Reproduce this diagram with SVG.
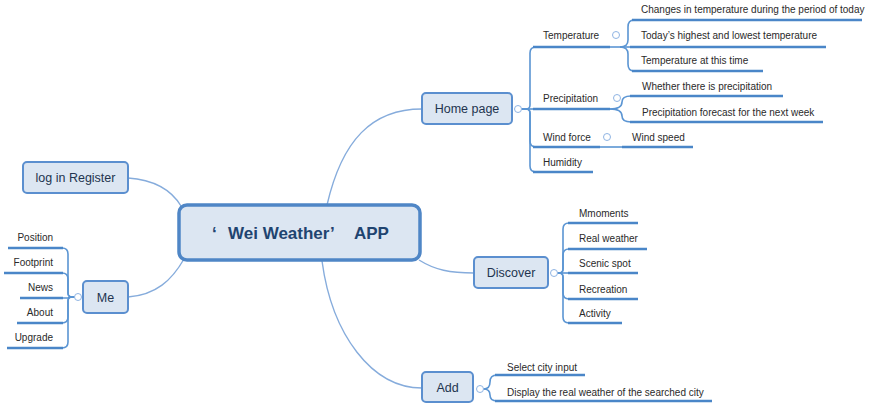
<svg xmlns="http://www.w3.org/2000/svg" width="874" height="406" viewBox="0 0 874 406">
<style>
.bg{fill:#ffffff}
.node rect{fill:#dce6f2;stroke:#5b8fcf;stroke-width:2}
.main rect{fill:#dce6f2;stroke:#4f86c6;stroke-width:3.5}
.nt{font-family:"Liberation Sans",Arial,sans-serif;font-size:12.5px;fill:#22344f;text-anchor:middle}
.mt{font-family:"Liberation Sans",Arial,sans-serif;font-size:17px;font-weight:bold;fill:#1f4470}
.lt{font-family:"Liberation Sans",Arial,sans-serif;font-size:10px;fill:#2a2a2a}
.rt{text-anchor:end}
.con{fill:none;stroke:#86acdc;stroke-width:1.4}
.br{fill:none;stroke:#5b95d3;stroke-width:1.6}
.ul{fill:none;stroke:#4a86c8;stroke-width:2.6}
.cc{fill:#ffffff;stroke:#8fb4e3;stroke-width:1}
</style>
<rect class="bg" x="0" y="0" width="874" height="406"/>
<g id="connectors">
  <path class="con" d="M327,205 C342,140 372,109 422,109"/>
  <path class="con" d="M419,260 C435,270 450,273 474,273"/>
  <path class="con" d="M322,261 C332,335 372,388 422,388"/>
  <path class="con" d="M128,178 C156,180 172,191 181,206"/>
  <path class="con" d="M128,297 C156,295 172,280 184,259"/>
  <path class="br" d="M521.5,109 H526 Q530,109 530,105 V53 Q530,47 536,47"/>
  <path class="br" d="M521.5,109 H536"/>
  <path class="br" d="M521.5,109 H526 Q530,109 530,113 V141 Q530,147 536,147"/>
  <path class="br" d="M521.5,109 H526 Q530,109 530,113 V166 Q530,172 536,172"/>
  <path class="br" d="M610,47 H631"/>
  <path class="br" d="M620,47 Q628,47 628,40 V27 Q628,20 634,20"/>
  <path class="br" d="M620,47 Q628,47 628,54 V64 Q628,71 634,71"/>
  <path class="br" d="M610,109 Q622,109 622,102 Q622,96 631,96"/>
  <path class="br" d="M610,109 Q622,109 622,116 Q622,122 631,122"/>
  <path class="br" d="M600,147 H623"/>
  <path class="br" d="M557.5,273 H559 Q563,273 563,269 V229 Q563,223 569,223"/>
  <path class="br" d="M557.5,273 H559 Q563,273 563,269 V255 Q563,249 569,249"/>
  <path class="br" d="M557.5,273 H569"/>
  <path class="br" d="M557.5,273 H559 Q563,273 563,277 V293 Q563,299 569,299"/>
  <path class="br" d="M557.5,273 H559 Q563,273 563,277 V317 Q563,323 569,323"/>
  <path class="br" d="M483.5,389 Q490,389 490,382 Q490,375 497,375"/>
  <path class="br" d="M483.5,389 Q490,389 490,395 Q490,401 497,401"/>
  <path class="br" d="M74.5,297 H72 Q68,297 68,293 V254 Q68,248 62,248"/>
  <path class="br" d="M74.5,297 H72 Q68,297 68,293 V279 Q68,273 62,273"/>
  <path class="br" d="M74.5,297 Q68,297 68,298 H62"/>
  <path class="br" d="M74.5,297 H72 Q68,297 68,301 V317 Q68,323 62,323"/>
  <path class="br" d="M74.5,297 H72 Q68,297 68,301 V342 Q68,348 62,348"/>
</g>
<g id="main" class="main">
  <rect x="179" y="205" width="241" height="55" rx="8"/>
  <text class="mt" y="239"><tspan x="212">‘</tspan><tspan x="228">Wei Weather’</tspan><tspan x="354">APP</tspan></text>
</g>
<g id="home" class="node">
  <rect x="422" y="93" width="90" height="31" rx="4"/>
  <text class="nt" x="467" y="113">Home page</text>
  <circle class="cc" cx="518" cy="109" r="3.5"/>
</g>
<g id="temperature">
  <text class="lt" x="543" y="39">Temperature</text>
  <path class="ul" d="M533,47 H610"/>
  <circle class="cc" cx="616" cy="35" r="3.5"/>
</g>
<g id="t1"><text class="lt" x="641" y="13">Changes in temperature during the period of today</text><path class="ul" d="M632,20 H862"/></g>
<g id="t2"><text class="lt" x="641" y="39">Today’s highest and lowest temperature</text><path class="ul" d="M630,47 H826"/></g>
<g id="t3"><text class="lt" x="641" y="64">Temperature at this time</text><path class="ul" d="M632,71 H763"/></g>
<g id="precipitation">
  <text class="lt" x="543" y="102">Precipitation</text>
  <path class="ul" d="M533,109 H610"/>
  <circle class="cc" cx="617" cy="98" r="3.5"/>
</g>
<g id="p1"><text class="lt" x="642" y="90">Whether there is precipitation</text><path class="ul" d="M630,96 H783"/></g>
<g id="p2"><text class="lt" x="642" y="116">Precipitation forecast for the next week</text><path class="ul" d="M630,122 H823"/></g>
<g id="windforce">
  <text class="lt" x="543" y="141">Wind force</text>
  <path class="ul" d="M533,147 H600"/>
  <circle class="cc" cx="607" cy="137" r="3.5"/>
</g>
<g id="windspeed"><text class="lt" x="632" y="141">Wind speed</text><path class="ul" d="M622,147 H693"/></g>
<g id="humidity"><text class="lt" x="543" y="166">Humidity</text><path class="ul" d="M533,172 H593"/></g>
<g id="discover" class="node">
  <rect x="474" y="257" width="74" height="31" rx="4"/>
  <text class="nt" x="511" y="277">Discover</text>
  <circle class="cc" cx="554" cy="273" r="3.5"/>
</g>
<g id="d1"><text class="lt" x="579" y="216.5">Mmoments</text><path class="ul" d="M568,223 H638"/></g>
<g id="d2"><text class="lt" x="579" y="241.5">Real weather</text><path class="ul" d="M568,249 H647"/></g>
<g id="d3"><text class="lt" x="579" y="267">Scenic spot</text><path class="ul" d="M568,273 H638"/></g>
<g id="d4"><text class="lt" x="579" y="292.5">Recreation</text><path class="ul" d="M568,299 H638"/></g>
<g id="d5"><text class="lt" x="579" y="317">Activity</text><path class="ul" d="M568,323 H622"/></g>
<g id="add" class="node">
  <rect x="422" y="372" width="51" height="30" rx="4"/>
  <text class="nt" x="447.5" y="392">Add</text>
  <circle class="cc" cx="480" cy="389" r="3.5"/>
</g>
<g id="a1"><text class="lt" x="507" y="370.5">Select city input</text><path class="ul" d="M495,375 H585"/></g>
<g id="a2"><text class="lt" x="507" y="395.5">Display the real weather of the searched city</text><path class="ul" d="M495,401 H712"/></g>
<g id="login" class="node">
  <rect x="23" y="162" width="105" height="31" rx="4"/>
  <text class="nt" x="75.5" y="182">log in Register</text>
</g>
<g id="me" class="node">
  <rect x="83" y="281" width="45" height="32" rx="4"/>
  <text class="nt" x="105.5" y="301.5">Me</text>
  <circle class="cc" cx="78" cy="297" r="3.5"/>
</g>
<g id="m1"><text class="lt rt" x="53" y="240.5">Position</text><path class="ul" d="M8,248 H63"/></g>
<g id="m2"><text class="lt rt" x="53" y="265.5">Footprint</text><path class="ul" d="M4,273 H63"/></g>
<g id="m3"><text class="lt rt" x="53" y="290.5">News</text><path class="ul" d="M20,298 H63"/></g>
<g id="m4"><text class="lt rt" x="53" y="315.5">About</text><path class="ul" d="M17,323 H63"/></g>
<g id="m5"><text class="lt rt" x="53" y="340.5">Upgrade</text><path class="ul" d="M7,348 H63"/></g>
</svg>
